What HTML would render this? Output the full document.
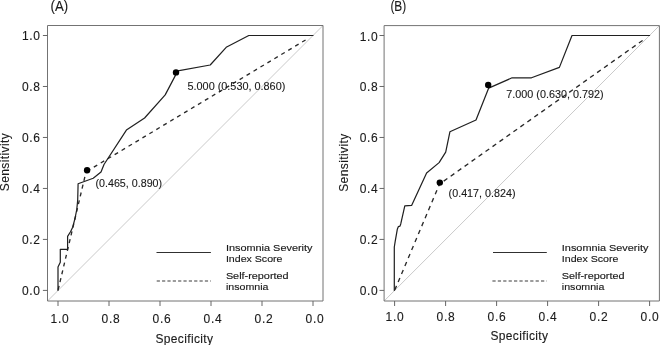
<!DOCTYPE html>
<html><head><meta charset="utf-8"><title>ROC curves</title>
<style>
html,body{margin:0;padding:0;background:#fff;}
body{width:660px;height:345px;overflow:hidden;}
svg{display:block;will-change:transform;}
text{font-family:"Liberation Sans", sans-serif;fill:#1a1a1a;stroke:#1a1a1a;stroke-width:0.12px;}
.lg{stroke:#1a1a1a;stroke-width:0.15px;}
</style></head>
<body>
<svg width="660" height="345" viewBox="0 0 660 345">
<rect x="0" y="0" width="660" height="345" fill="#fff"/>
<line x1="47.5" y1="301.0" x2="323.0" y2="25.5" stroke="#cacaca" stroke-width="1"/>
<path d="M47.5,25.5 H323.0 V301.0 H47.5 Z" fill="none" stroke="#737373" stroke-width="1"/>
<line x1="42.90" y1="290.40" x2="47.5" y2="290.40" stroke="#666666" stroke-width="1"/>
<text x="39.90" y="294.50" text-anchor="end" font-size="12" textLength="18.0" lengthAdjust="spacing">0.0</text>
<line x1="42.90" y1="239.42" x2="47.5" y2="239.42" stroke="#666666" stroke-width="1"/>
<text x="39.90" y="243.52" text-anchor="end" font-size="12" textLength="18.0" lengthAdjust="spacing">0.2</text>
<line x1="42.90" y1="188.44" x2="47.5" y2="188.44" stroke="#666666" stroke-width="1"/>
<text x="39.90" y="192.54" text-anchor="end" font-size="12" textLength="18.0" lengthAdjust="spacing">0.4</text>
<line x1="42.90" y1="137.46" x2="47.5" y2="137.46" stroke="#666666" stroke-width="1"/>
<text x="39.90" y="141.56" text-anchor="end" font-size="12" textLength="18.0" lengthAdjust="spacing">0.6</text>
<line x1="42.90" y1="86.48" x2="47.5" y2="86.48" stroke="#666666" stroke-width="1"/>
<text x="39.90" y="90.58" text-anchor="end" font-size="12" textLength="18.0" lengthAdjust="spacing">0.8</text>
<line x1="42.90" y1="35.50" x2="47.5" y2="35.50" stroke="#666666" stroke-width="1"/>
<text x="39.90" y="39.60" text-anchor="end" font-size="12" textLength="18.0" lengthAdjust="spacing">1.0</text>
<line x1="58.00" y1="301.0" x2="58.00" y2="306.00" stroke="#666666" stroke-width="1"/>
<text x="59.60" y="322.80" text-anchor="middle" font-size="12" textLength="18.3" lengthAdjust="spacing">1.0</text>
<line x1="109.00" y1="301.0" x2="109.00" y2="306.00" stroke="#666666" stroke-width="1"/>
<text x="110.60" y="322.80" text-anchor="middle" font-size="12" textLength="18.3" lengthAdjust="spacing">0.8</text>
<line x1="160.00" y1="301.0" x2="160.00" y2="306.00" stroke="#666666" stroke-width="1"/>
<text x="161.60" y="322.80" text-anchor="middle" font-size="12" textLength="18.3" lengthAdjust="spacing">0.6</text>
<line x1="211.00" y1="301.0" x2="211.00" y2="306.00" stroke="#666666" stroke-width="1"/>
<text x="212.60" y="322.80" text-anchor="middle" font-size="12" textLength="18.3" lengthAdjust="spacing">0.4</text>
<line x1="262.00" y1="301.0" x2="262.00" y2="306.00" stroke="#666666" stroke-width="1"/>
<text x="263.60" y="322.80" text-anchor="middle" font-size="12" textLength="18.3" lengthAdjust="spacing">0.2</text>
<line x1="313.00" y1="301.0" x2="313.00" y2="306.00" stroke="#666666" stroke-width="1"/>
<text x="314.60" y="322.80" text-anchor="middle" font-size="12" textLength="18.3" lengthAdjust="spacing">0.0</text>
<text x="184.20" y="342.50" text-anchor="middle" font-size="12" textLength="57.6" lengthAdjust="spacing">Specificity</text>
<text transform="translate(8.5,162.2) rotate(-90)" x="0" y="0" text-anchor="middle" font-size="12" textLength="58" lengthAdjust="spacing">Sensitivity</text>
<text x="50.6" y="10.8" font-size="14.5" textLength="17.6" lengthAdjust="spacingAndGlyphs">(A)</text>
<line x1="58" y1="290.4" x2="86.05" y2="171.8" stroke="#2a2a2a" stroke-width="1.35" stroke-dasharray="4 4" stroke-dashoffset="7.4"/>
<line x1="86.05" y1="171.8" x2="306.37" y2="39.48" stroke="#2a2a2a" stroke-width="1.35" stroke-dasharray="4 4.1" stroke-dashoffset="7.14"/>
<polyline points="58.00,290.40 58.00,267.00 60.30,262.30 60.30,249.30 67.60,249.30 67.60,236.40 70.50,231.70 72.70,227.20 75.00,218.50 76.80,209.30 77.70,200.00 78.10,183.70 93.20,178.20 101.00,172.00 104.00,164.50 126.40,130.10 144.60,118.00 165.20,94.90 177.80,70.90 210.20,65.00 226.20,47.30 248.80,35.50 313.00,35.50" fill="none" stroke="#202020" stroke-width="1.22" stroke-linejoin="round" stroke-linecap="round"/>
<circle cx="87.1" cy="170.2" r="3.2" fill="#000"/>
<circle cx="176.0" cy="72.4" r="3.2" fill="#000"/>
<text x="187.5" y="90.30" font-size="11.6" textLength="97.8" lengthAdjust="spacingAndGlyphs">5.000 (0.530, 0.860)</text>
<text x="95.5" y="187.10" font-size="11.6" textLength="66.6" lengthAdjust="spacingAndGlyphs">(0.465, 0.890)</text>
<line x1="156.5" y1="252.5" x2="210.9" y2="252.5" stroke="#303030" stroke-width="1.1"/>
<line x1="156.7" y1="281.0" x2="210.9" y2="281.0" stroke="#7c7c7c" stroke-width="1.5" stroke-dasharray="3.22 2.13"/>
<text x="225.9" y="250.8" font-size="9.5" textLength="86.6" lengthAdjust="spacingAndGlyphs" class="lg">Insomnia Severity</text>
<text x="225.9" y="262.0" font-size="9.5" textLength="56.6" lengthAdjust="spacingAndGlyphs" class="lg">Index Score</text>
<text x="225.9" y="278.7" font-size="9.5" textLength="62.7" lengthAdjust="spacingAndGlyphs" class="lg">Self-reported</text>
<text x="225.9" y="289.8" font-size="9.5" textLength="42.6" lengthAdjust="spacingAndGlyphs" class="lg">insomnia</text>
<line x1="384.1" y1="301.0" x2="659.4" y2="25.6" stroke="#cacaca" stroke-width="1"/>
<path d="M384.1,25.6 H659.4 V301.0 H384.1 Z" fill="none" stroke="#737373" stroke-width="1"/>
<line x1="379.50" y1="290.40" x2="384.1" y2="290.40" stroke="#666666" stroke-width="1"/>
<text x="377.70" y="295.40" text-anchor="end" font-size="12" textLength="18.0" lengthAdjust="spacing">0.0</text>
<line x1="379.50" y1="239.42" x2="384.1" y2="239.42" stroke="#666666" stroke-width="1"/>
<text x="377.70" y="244.42" text-anchor="end" font-size="12" textLength="18.0" lengthAdjust="spacing">0.2</text>
<line x1="379.50" y1="188.44" x2="384.1" y2="188.44" stroke="#666666" stroke-width="1"/>
<text x="377.70" y="193.44" text-anchor="end" font-size="12" textLength="18.0" lengthAdjust="spacing">0.4</text>
<line x1="379.50" y1="137.46" x2="384.1" y2="137.46" stroke="#666666" stroke-width="1"/>
<text x="377.70" y="142.46" text-anchor="end" font-size="12" textLength="18.0" lengthAdjust="spacing">0.6</text>
<line x1="379.50" y1="86.48" x2="384.1" y2="86.48" stroke="#666666" stroke-width="1"/>
<text x="377.70" y="91.48" text-anchor="end" font-size="12" textLength="18.0" lengthAdjust="spacing">0.8</text>
<line x1="379.50" y1="35.50" x2="384.1" y2="35.50" stroke="#666666" stroke-width="1"/>
<text x="377.70" y="40.50" text-anchor="end" font-size="12" textLength="18.0" lengthAdjust="spacing">1.0</text>
<line x1="394.60" y1="301.0" x2="394.60" y2="306.00" stroke="#666666" stroke-width="1"/>
<text x="394.60" y="320.50" text-anchor="middle" font-size="12" textLength="18.3" lengthAdjust="spacing">1.0</text>
<line x1="445.60" y1="301.0" x2="445.60" y2="306.00" stroke="#666666" stroke-width="1"/>
<text x="445.60" y="320.50" text-anchor="middle" font-size="12" textLength="18.3" lengthAdjust="spacing">0.8</text>
<line x1="496.60" y1="301.0" x2="496.60" y2="306.00" stroke="#666666" stroke-width="1"/>
<text x="496.60" y="320.50" text-anchor="middle" font-size="12" textLength="18.3" lengthAdjust="spacing">0.6</text>
<line x1="547.60" y1="301.0" x2="547.60" y2="306.00" stroke="#666666" stroke-width="1"/>
<text x="547.60" y="320.50" text-anchor="middle" font-size="12" textLength="18.3" lengthAdjust="spacing">0.4</text>
<line x1="598.60" y1="301.0" x2="598.60" y2="306.00" stroke="#666666" stroke-width="1"/>
<text x="598.60" y="320.50" text-anchor="middle" font-size="12" textLength="18.3" lengthAdjust="spacing">0.2</text>
<line x1="649.60" y1="301.0" x2="649.60" y2="306.00" stroke="#666666" stroke-width="1"/>
<text x="649.60" y="320.50" text-anchor="middle" font-size="12" textLength="18.3" lengthAdjust="spacing">0.0</text>
<text x="519.20" y="340.20" text-anchor="middle" font-size="12" textLength="57.6" lengthAdjust="spacing">Specificity</text>
<text transform="translate(347.9,162.8) rotate(-90)" x="0" y="0" text-anchor="middle" font-size="12" textLength="58" lengthAdjust="spacing">Sensitivity</text>
<text x="390.4" y="10.8" font-size="14.5" textLength="15.8" lengthAdjust="spacingAndGlyphs">(B)</text>
<line x1="394.6" y1="290.4" x2="439.5" y2="184.1" stroke="#2a2a2a" stroke-width="1.35" stroke-dasharray="4.4 4.26" stroke-dashoffset="8.16"/>
<line x1="439.5" y1="184.1" x2="642.63" y2="40.43" stroke="#2a2a2a" stroke-width="1.35" stroke-dasharray="4.5 4.04" stroke-dashoffset="3.39"/>
<polyline points="394.30,290.40 394.30,247.00 395.20,241.30 397.30,229.30 398.40,226.60 400.00,226.10 400.80,223.70 404.80,205.90 411.60,205.40 426.60,173.00 439.10,162.60 445.70,152.20 449.90,131.80 476.00,120.00 488.70,88.10 512.10,77.80 531.50,77.80 559.40,67.40 572.00,35.50 649.60,35.50" fill="none" stroke="#202020" stroke-width="1.22" stroke-linejoin="round" stroke-linecap="round"/>
<circle cx="439.8" cy="182.6" r="3.2" fill="#000"/>
<circle cx="488.2" cy="85.0" r="3.2" fill="#000"/>
<text x="506.3" y="97.90" font-size="11.6" textLength="97.4" lengthAdjust="spacingAndGlyphs">7.000 (0.630, 0.792)</text>
<text x="448.6" y="197.10" font-size="11.6" textLength="66.9" lengthAdjust="spacingAndGlyphs">(0.417, 0.824)</text>
<line x1="493.0" y1="252.5" x2="546.8" y2="252.5" stroke="#303030" stroke-width="1.1"/>
<line x1="492.4" y1="281.0" x2="546.8" y2="281.0" stroke="#7c7c7c" stroke-width="1.5" stroke-dasharray="3.25 2.15"/>
<text x="561.8" y="250.8" font-size="9.5" textLength="86.6" lengthAdjust="spacingAndGlyphs" class="lg">Insomnia Severity</text>
<text x="561.8" y="262.0" font-size="9.5" textLength="56.6" lengthAdjust="spacingAndGlyphs" class="lg">Index Score</text>
<text x="561.8" y="278.7" font-size="9.5" textLength="62.7" lengthAdjust="spacingAndGlyphs" class="lg">Self-reported</text>
<text x="561.8" y="289.8" font-size="9.5" textLength="42.6" lengthAdjust="spacingAndGlyphs" class="lg">insomnia</text>
</svg>
</body></html>
